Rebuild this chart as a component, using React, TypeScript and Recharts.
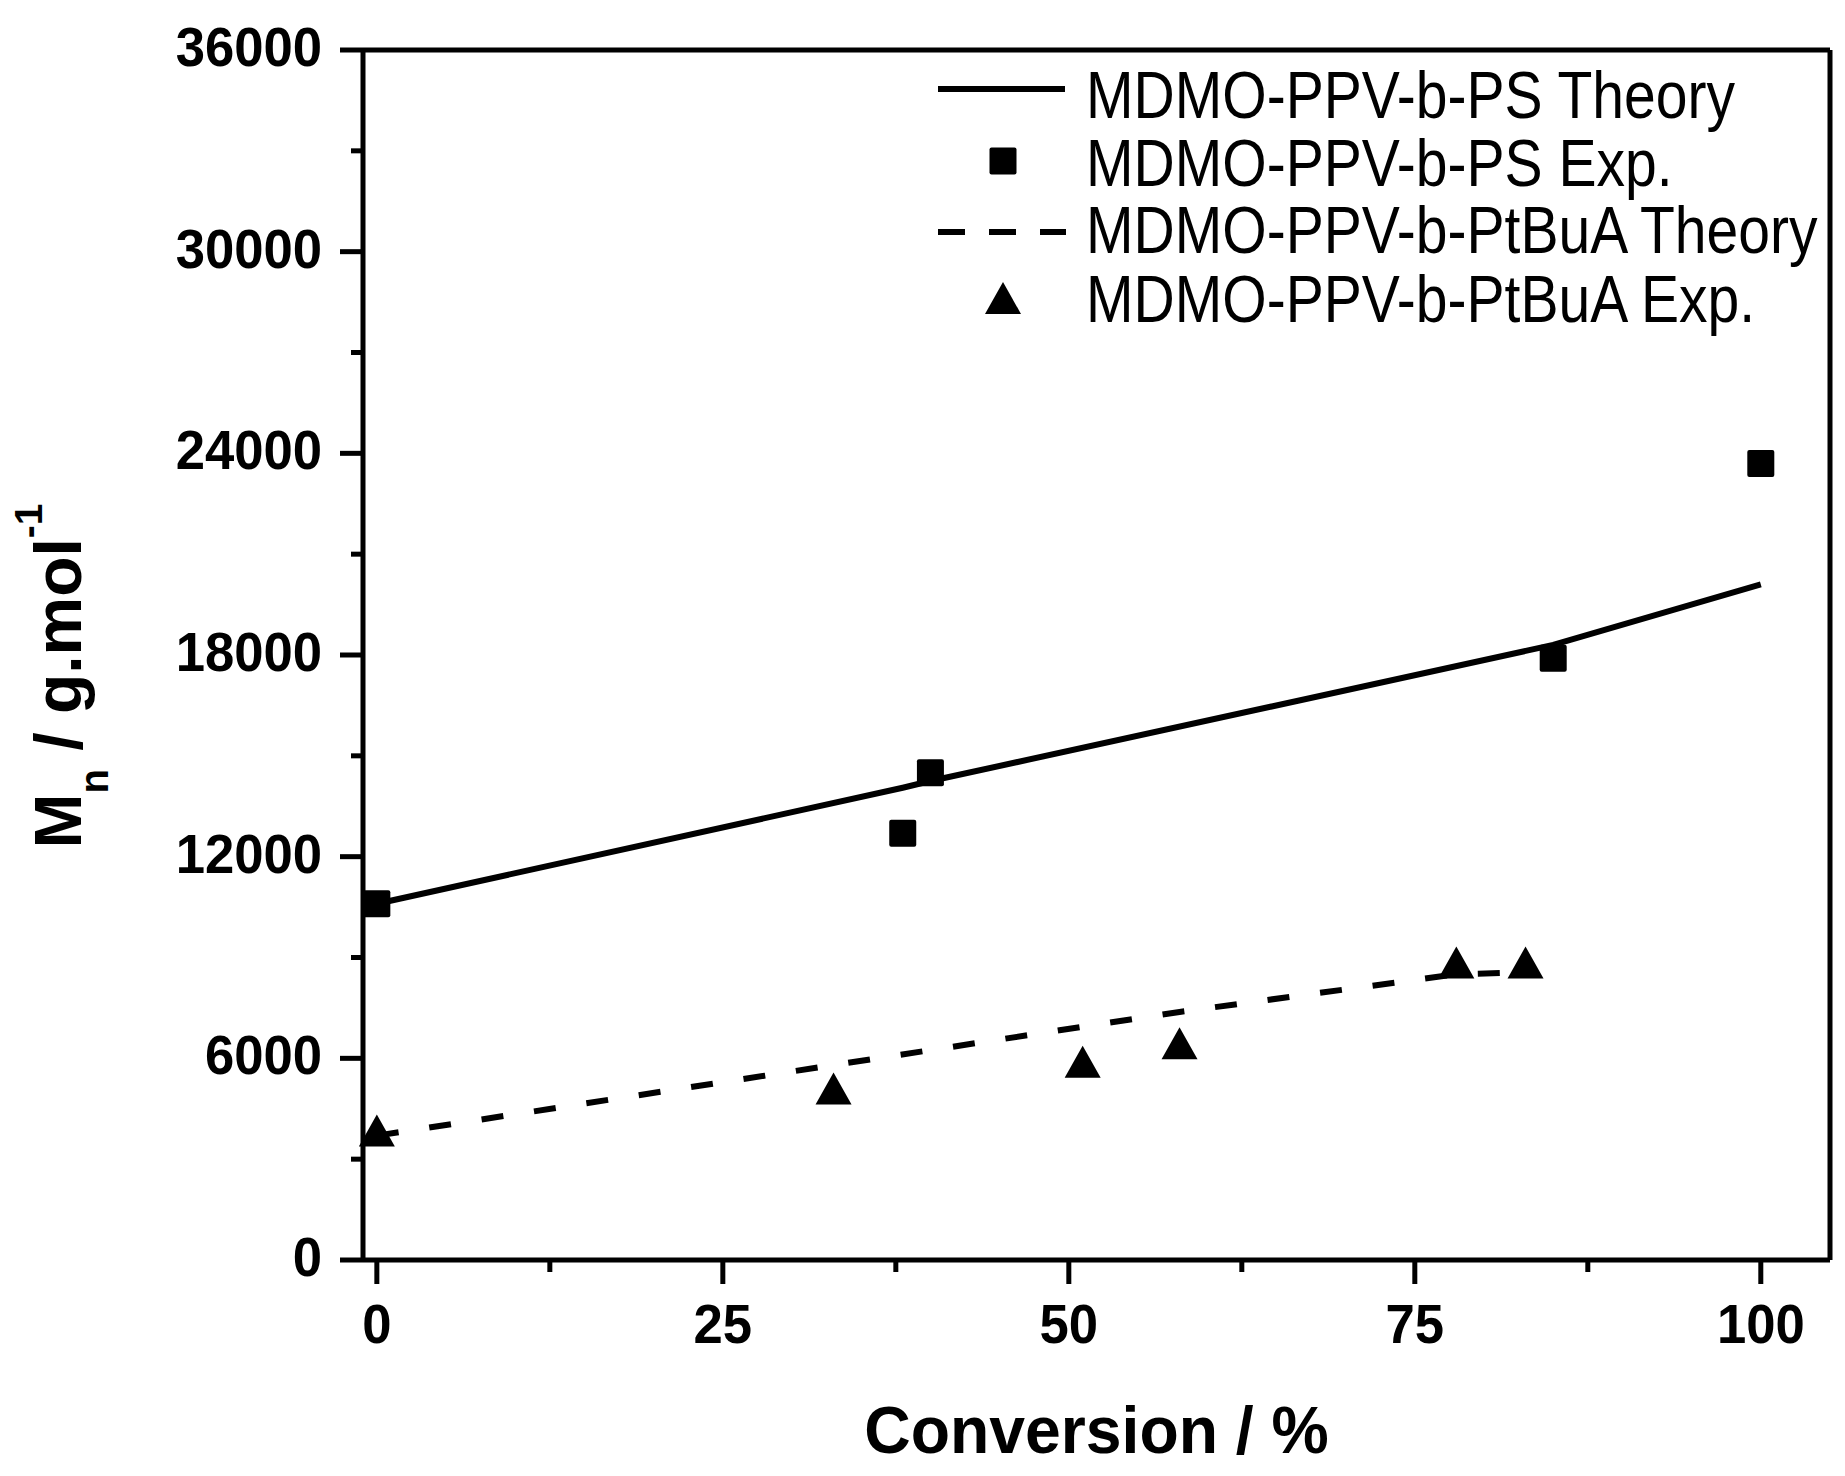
import React from 'react'
import {
  ComposedChart,
  Line,
  Scatter,
  XAxis,
  YAxis,
  ReferenceLine,
  Legend,
} from 'recharts'

// conversion (%) and Mn (g/mol)
const psTheoryConv = [0, 38, 40, 85, 100]
const psTheoryMn = [10600, 14050, 14250, 18300, 20100]
const psExpConv = [0, 38, 40, 85, 100]
const psExpMn = [10600, 12700, 14500, 17900, 23700]
const tbaTheoryConv = [0, 33, 51, 58, 78, 83]
const tbaTheoryMn = [3700, 5800, 6940, 7380, 8500, 8560]
const tbaExpConv = [0, 33, 51, 58, 78, 83]
const tbaExpMn = [3850, 5100, 5900, 6450, 8850, 8850]

const seriesNames = [
  'MDMO-PPV-b-PS Theory',
  'MDMO-PPV-b-PS Exp.',
  'MDMO-PPV-b-PtBuA Theory',
  'MDMO-PPV-b-PtBuA Exp.',
]

const xTicks = [0, 12.5, 25, 37.5, 50, 62.5, 75, 87.5, 100]
const yTicks = [
  0, 3000, 6000, 9000, 12000, 15000, 18000, 21000, 24000, 27000, 30000, 33000, 36000,
]
const xTitle = 'Conversion / %'

const pair = (xs: number[], ys: number[]) => xs.map((x, i) => ({ x, y: ys[i] }))

const psTheory = pair(psTheoryConv, psTheoryMn)
const psExp = pair(psExpConv, psExpMn)
const tbaTheory = pair(tbaTheoryConv, tbaTheoryMn)
const tbaExp = pair(tbaExpConv, tbaExpMn)

const FONT = '"Liberation Sans", Arial, sans-serif'

const SquareDot = (props: any) => {
  const { cx, cy } = props
  if (cx == null || cy == null) return null
  return <rect x={cx - 13.5} y={cy - 13.5} width={27} height={27} rx={2} fill="#000" />
}

const TriangleDot = (props: any) => {
  const { cx, cy } = props
  if (cx == null || cy == null) return null
  return (
    <polygon
      points={`${cx},${cy - 16} ${cx + 18},${cy + 16} ${cx - 18},${cy + 16}`}
      fill="#000"
    />
  )
}

const YTick = (props: any) => {
  const { x, y, payload } = props
  const major = payload.value % 6000 === 0
  return (
    <g>
      <line x1={x} x2={x - (major ? 23 : 12)} y1={y} y2={y} stroke="#000" strokeWidth={5} />
      {major && (
        <text
          transform={`translate(${x - 41},${y + 16}) scale(0.94,1)`}
          textAnchor="end"
          fontSize={56}
          fontWeight="bold"
          fontFamily={FONT}
          fill="#000"
        >
          {payload.value}
        </text>
      )}
    </g>
  )
}

const XTick = (props: any) => {
  const { x, y, payload } = props
  const major = payload.value % 25 === 0
  return (
    <g>
      <line x1={x} x2={x} y1={y} y2={y + (major ? 24 : 12)} stroke="#000" strokeWidth={5} />
      {major && (
        <text
          transform={`translate(${x},${y + 83}) scale(0.94,1)`}
          textAnchor="middle"
          fontSize={56}
          fontWeight="bold"
          fontFamily={FONT}
          fill="#000"
        >
          {payload.value}
        </text>
      )}
    </g>
  )
}

const XTitle = (props: any) => {
  const vb = props.viewBox || { x: 363, y: 1260, width: 1467 }
  return (
    <text
      transform={`translate(${vb.x + vb.width / 2},${vb.y + 193}) scale(0.96,1)`}
      textAnchor="middle"
      fontSize={67}
      fontWeight="bold"
      fontFamily={FONT}
      fill="#000"
    >
      {xTitle}
    </text>
  )
}

const YTitle = () => (
  <text
    transform="translate(81,676) rotate(-90)"
    textAnchor="middle"
    fontSize={66}
    fontWeight="bold"
    fontFamily={FONT}
    fill="#000"
  >
    M
    <tspan fontSize={40} dy={27}>n</tspan>
    <tspan dy={-27}> / g.mol</tspan>
    <tspan fontSize={39} dy={-39}>-1</tspan>
  </text>
)

const LegendText = ({ x, y, label }: { x: number; y: number; label: string }) => (
  <text
    transform={`translate(${x},${y}) scale(0.865,1)`}
    fontSize={66}
    fontFamily={FONT}
    fill="#000"
  >
    {label}
  </text>
)

const renderLegend = () => (
  <svg width={1845} height={360} style={{ display: 'block', overflow: 'visible' }}>
    <line x1={938} x2={1065} y1={89} y2={89} stroke="#000" strokeWidth={6} />
    <LegendText x={1086} y={118} label={seriesNames[0]} />
    <rect x={989.5} y={147.5} width={27} height={27} rx={2} fill="#000" />
    <LegendText x={1086} y={186} label={seriesNames[1]} />
    <line
      x1={938}
      x2={1066}
      y1={232}
      y2={232}
      stroke="#000"
      strokeWidth={6}
      strokeDasharray="27 24"
    />
    <LegendText x={1086} y={253} label={seriesNames[2]} />
    <polygon points="1003,282 1021,314 985,314" fill="#000" />
    <LegendText x={1086} y={322} label={seriesNames[3]} />
  </svg>
)

export default function App() {
  return (
    <div
      style={{
        position: 'absolute',
        left: 0,
        top: 0,
        width: 1845,
        height: 1476,
        background: '#fff',
      }}
    >
      <ComposedChart
        width={1845}
        height={1476}
        margin={{ top: 50, right: 15, bottom: 0, left: 0 }}
      >
        <XAxis
          type="number"
          dataKey="x"
          domain={[-1, 105]}
          ticks={xTicks}
          interval={0}
          tickSize={0}
          tickMargin={0}
          tick={<XTick />}
          tickLine={false}
          axisLine={{ stroke: '#000', strokeWidth: 5 }}
          height={216}
          label={{ content: <XTitle /> }}
        />
        <YAxis
          type="number"
          domain={[0, 36000]}
          ticks={yTicks}
          interval={0}
          tickSize={0}
          tickMargin={0}
          tick={<YTick />}
          tickLine={false}
          axisLine={{ stroke: '#000', strokeWidth: 5 }}
          width={363}
          label={{ content: <YTitle /> }}
        />
        <ReferenceLine
          y={36000}
          stroke="#000"
          strokeWidth={5}
          segment={[
            { x: -1.2, y: 36000 },
            { x: 105.15, y: 36000 },
          ]}
          ifOverflow="visible"
        />
        <ReferenceLine x={105} stroke="#000" strokeWidth={5} ifOverflow="visible" />
        <Line
          data={psTheory}
          dataKey="y"
          name={seriesNames[0]}
          type="linear"
          stroke="#000"
          strokeWidth={6}
          dot={false}
          activeDot={false}
          isAnimationActive={false}
        />
        <Line
          data={tbaTheory}
          dataKey="y"
          name={seriesNames[2]}
          type="linear"
          stroke="#000"
          strokeWidth={6}
          strokeDasharray="22 31"
          dot={false}
          activeDot={false}
          isAnimationActive={false}
        />
        <Scatter
          data={psExp}
          dataKey="y"
          name={seriesNames[1]}
          shape={<SquareDot />}
          isAnimationActive={false}
        />
        <Scatter
          data={tbaExp}
          dataKey="y"
          name={seriesNames[3]}
          shape={<TriangleDot />}
          isAnimationActive={false}
        />
        <Legend
          content={renderLegend}
          layout="horizontal"
          verticalAlign="middle"
          align="center"
          wrapperStyle={{ left: 0, top: 0, width: 1845, height: 360 }}
        />
      </ComposedChart>
    </div>
  )
}
